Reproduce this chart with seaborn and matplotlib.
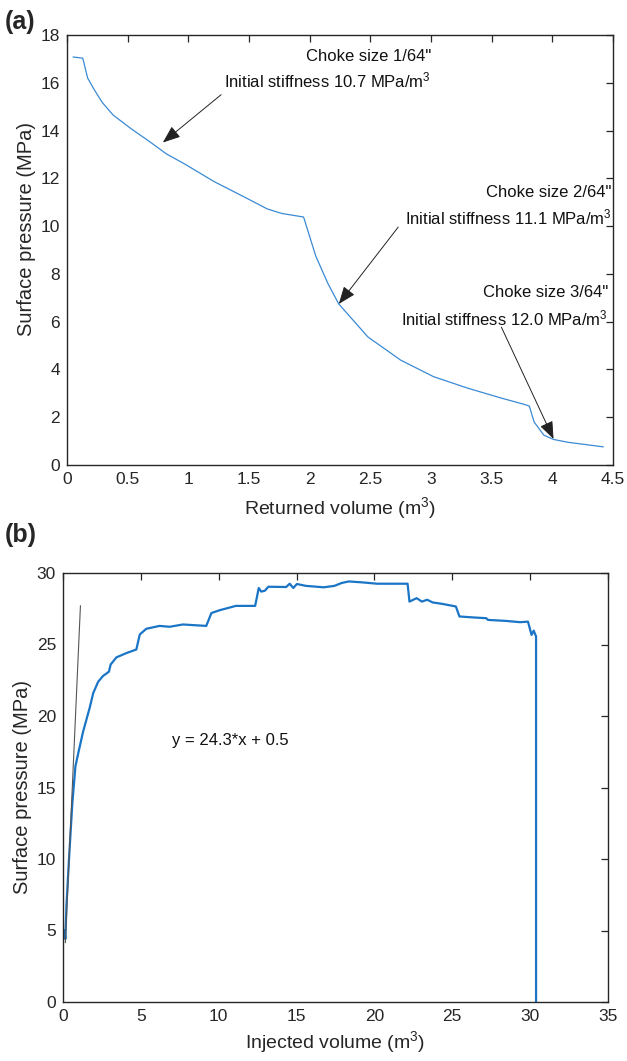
import matplotlib
matplotlib.use("Agg")
import matplotlib.pyplot as plt
import seaborn as sns
import pandas as pd

# (a) pressure decline during flowback through the choke
returned_volume = [0.05, 0.13, 0.17, 0.22, 0.29, 0.38, 0.53, 0.68, 0.82, 0.97,
                   1.21, 1.48, 1.65, 1.77, 1.95, 2.05, 2.15, 2.24, 2.48, 2.75,
                   3.02, 3.30, 3.58, 3.76, 3.81, 3.85, 3.93, 4.01, 4.13, 4.42]
surface_pressure_a = [17.08, 17.03, 16.2, 15.75, 15.18, 14.65, 14.07, 13.54, 13.02, 12.6,
                      11.87, 11.17, 10.72, 10.53, 10.38, 8.75, 7.6, 6.74, 5.36, 4.39,
                      3.7, 3.22, 2.8, 2.55, 2.47, 1.8, 1.25, 1.07, 0.95, 0.76]

# (b) pressure during injection
injected_volume = [0.10, 0.15, 0.22, 0.38, 0.60, 0.80, 1.00, 1.29, 1.72, 1.94,
                   2.26, 2.57, 2.95, 3.06, 3.43, 4.07, 4.71, 4.93, 5.35, 6.20,
                   6.85, 7.70, 9.20, 9.53, 10.07, 11.10, 12.34, 12.57, 12.73, 12.96,
                   13.19, 14.33, 14.56, 14.79, 15.02, 15.60, 16.74, 17.43, 17.89, 18.35,
                   19.27, 20.18, 22.13, 22.25, 22.71, 23.05, 23.39, 23.74, 24.31, 25.23,
                   25.46, 26.38, 27.18, 27.29, 28.44, 29.36, 29.86, 30.09, 30.23, 30.34,
                   30.38, 30.38]
surface_pressure_b = [5.0, 4.4, 6.7, 9.9, 13.9, 16.5, 17.5, 18.9, 20.6, 21.6,
                      22.4, 22.8, 23.1, 23.6, 24.1, 24.4, 24.65, 25.7, 26.1, 26.3,
                      26.24, 26.4, 26.3, 27.2, 27.4, 27.7, 27.7, 28.95, 28.7, 28.76,
                      29.04, 29.02, 29.25, 28.95, 29.23, 29.1, 29.0, 29.1, 29.3, 29.41,
                      29.34, 29.25, 29.25, 28.0, 28.24, 28.0, 28.13, 27.94, 27.85, 27.66,
                      26.96, 26.89, 26.84, 26.72, 26.65, 26.56, 26.6, 25.67, 25.97, 25.67,
                      25.57, 0.0]

# linear fit of the initial injection stage: y = slope * x + intercept
fit_slope = 24.3
fit_intercept = 0.5
fit_x = [0.15, 1.12]

a_xticks = [0, 0.5, 1, 1.5, 2, 2.5, 3, 3.5, 4, 4.5]
a_yticks = [0, 2, 4, 6, 8, 10, 12, 14, 16, 18]
b_xticks = [0, 5, 10, 15, 20, 25, 30, 35]
b_yticks = [0, 5, 10, 15, 20, 25, 30]

sns.set_theme(style="white")
plt.rcParams["font.family"] = ["Liberation Sans", "DejaVu Sans"]
plt.rcParams["mathtext.fontset"] = "custom"
plt.rcParams["mathtext.rm"] = "Liberation Sans"
plt.rcParams["mathtext.it"] = "Liberation Sans:italic"
plt.rcParams["mathtext.bf"] = "Liberation Sans:bold"

TXT = "#262626"
SPINE = "#262626"

fig = plt.figure(figsize=(6.27, 10.61), dpi=100)
ax_a = fig.add_axes([67 / 627, 1 - 465 / 1061, 546 / 627, 430 / 1061])
ax_b = fig.add_axes([63 / 627, 1 - 1002 / 1061, 545 / 627, 429 / 1061])


def style_axes(ax):
    for s in ax.spines.values():
        s.set_visible(True)
        s.set_color(SPINE)
        s.set_linewidth(1.0)
    ax.tick_params(direction="in", length=5, width=0.9, color=SPINE,
                   top=True, right=True, labelsize=12.5, labelcolor=TXT, pad=5)
    ax.grid(False)


df_a = pd.DataFrame({"v": returned_volume, "p": surface_pressure_a})
sns.lineplot(data=df_a, x="v", y="p", ax=ax_a, color="#3a8ad4", linewidth=0.9,
             sort=False, estimator=None)
ax_a.set_xlim(0, 4.5)
ax_a.set_ylim(0, 18)
ax_a.set_xticks(a_xticks)
ax_a.set_xticklabels([f"{t:g}" for t in a_xticks])
ax_a.set_yticks(a_yticks)
style_axes(ax_a)
ax_a.set_xlabel(r"Returned volume (m$\mathregular{^3}$)", fontsize=14, color=TXT, labelpad=6)
ax_a.set_ylabel("Surface pressure (MPa)", fontsize=14.5, color=TXT, labelpad=6)
ax_a.yaxis.set_label_coords(-0.056, 0.55)

arrow_kw = dict(arrowstyle="-|>,head_length=0.9,head_width=0.35", color="#222222",
                lw=0.7, shrinkA=0, shrinkB=0)
notes = [
    ("Choke size 1/64\"", "Initial stiffness 10.7 MPa/m$\\mathregular{^3}$",
     3.0, 17.12, 16.1, (1.27, 15.5), (0.79, 13.5)),
    ("Choke size 2/64\"", "Initial stiffness 11.1 MPa/m$\\mathregular{^3}$",
     4.49, 11.42, 10.38, (2.73, 9.96), (2.24, 6.74)),
    ("Choke size 3/64\"", "Initial stiffness 12.0 MPa/m$\\mathregular{^3}$",
     4.46, 7.24, 6.15, (3.58, 5.77), (4.01, 1.09)),
]
for line1, line2, tx, y1, y2, tail, tip in notes:
    ax_a.text(tx, y1, line1, ha="right", va="center", fontsize=12, color="#111111")
    ax_a.text(tx, y2, line2, ha="right", va="center", fontsize=12, color="#111111")
    ax_a.annotate("", xy=tip, xytext=tail, arrowprops=arrow_kw)

df_b = pd.DataFrame({"v": injected_volume, "p": surface_pressure_b})
sns.lineplot(data=df_b, x="v", y="p", ax=ax_b, color="#1a75c6", linewidth=1.6,
             sort=False, estimator=None)
fit_y = [fit_slope * x + fit_intercept for x in fit_x]
ax_b.plot(fit_x, fit_y, color="#555555", linewidth=0.8)
ax_b.text(7.0, 18.3, f"y = {fit_slope}*x + {fit_intercept}", ha="left", va="center",
          fontsize=12, color="#111111")
ax_b.set_xlim(0, 35)
ax_b.set_ylim(0, 30)
ax_b.set_xticks(b_xticks)
ax_b.set_yticks(b_yticks)
style_axes(ax_b)
ax_b.set_xlabel(r"Injected volume (m$\mathregular{^3}$)", fontsize=14, color=TXT, labelpad=4)
ax_b.set_ylabel("Surface pressure (MPa)", fontsize=14.5, color=TXT, labelpad=6)
ax_b.yaxis.set_label_coords(-0.056, 0.5)

fig.text(5 / 627, 1 - 22 / 1061, "(a)", fontsize=18, fontweight="bold", va="center", ha="left")
fig.text(5 / 627, 1 - 535 / 1061, "(b)", fontsize=18, fontweight="bold", va="center", ha="left")

fig.savefig("out.png", dpi=100)
